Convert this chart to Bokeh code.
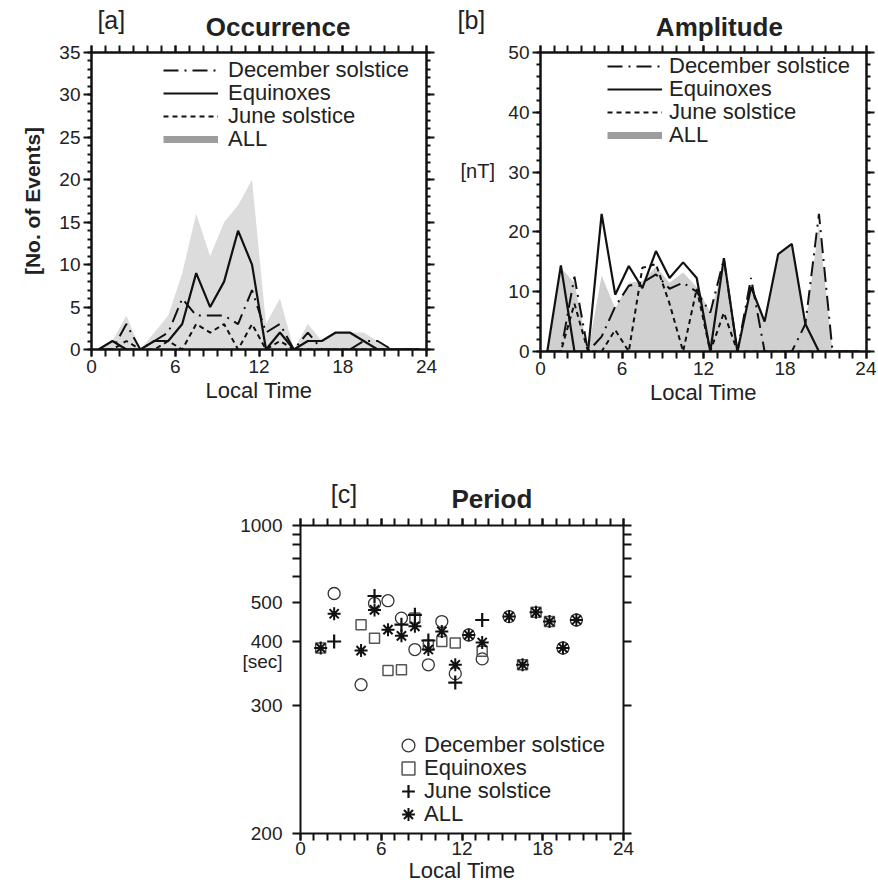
from bokeh.plotting import figure
from bokeh.models import (Range1d, LinearAxis, FixedTicker, Label, Legend, LegendItem,
                          ColumnDataSource, CustomJSTransform, CustomJSTickFormatter,
                          CustomLabelingPolicy, Spacer)
from bokeh.layouts import row, column
from bokeh.transform import transform
from bokeh.embed import file_html
from bokeh.resources import INLINE

# ---------------- data ----------------
HOURS = [0.5, 1.5, 2.5, 3.5, 4.5, 5.5, 6.5, 7.5, 8.5, 9.5, 10.5, 11.5,
         12.5, 13.5, 14.5, 15.5, 16.5, 17.5, 18.5, 19.5, 20.5, 21.5, 22.5, 23.5]

# [a] Occurrence (number of events)
OCC_DEC = [0, 0, 3, 0, 1, 2, 6, 4, 4, 4, 3, 7, 2, 3, 0, 2, 0, 0, 0, 1, 1, 0, 0, 0]
OCC_EQU = [0, 1, 0, 0, 1, 1, 3, 9, 5, 8, 14, 10, 0, 2, 0, 1, 1, 2, 2, 1, 0, 0, 0, 0]
OCC_JUN = [0, 0, 1, 0, 0, 1, 0, 3, 2, 3, 0, 3, 0, 1, 0, 0, 0, 0, 0, 0, 0, 0, 0, 0]
OCC_ALL = [0, 1, 4, 0, 2, 4, 9, 16, 11, 15, 17, 20, 3, 6, 0, 3, 1, 2, 2, 2, 1, 0, 0, 0]

# [b] Amplitude (nT)
AMP_DEC = [0, 0, 12.5, 0, 2.5, 7.5, 11, 11.5, 12.9, 10.5, 11.5, 10, 6.5, 15.5,
           0, 12.3, 0, 0, 0, 4.6, 23, 0, 0, 0]
AMP_EQU = [0, 14.4, 0, 0, 23, 9.5, 14.3, 10.6, 16.8, 12.3, 14.9, 12.3, 0, 15.6,
           0, 10.8, 5.0, 16.3, 18.0, 4.6, 0, 0, 0, 0]
AMP_JUN = [0, 0, 8, 0, 0, 3.6, 0, 14, 14.6, 8, 0, 10.5, 0, 6.5,
           0, 0, 0, 0, 0, 0, 0, 0, 0, 0]
AMP_ALL = [0, 14, 11.5, 0, 12.7, 7.2, 11.5, 11.8, 14.2, 11.5, 13.2, 10.8, 6.6, 14.2,
           0, 11.3, 5, 16.2, 18, 4.6, 21, 0, 0, 0]

# [c] Period (sec)
PER_DEC_LT = [2.5, 4.5, 5.5, 6.5, 7.5, 8.5, 9.5, 10.5, 11.5, 12.5, 13.5, 15.5, 19.5, 20.5]
PER_DEC = [531, 326, 497, 506, 454, 383, 356, 445, 342, 413, 366, 458, 386, 449]
PER_EQU_LT = [1.5, 4.5, 5.5, 6.5, 7.5, 8.5, 9.5, 10.5, 11.5, 13.5, 16.5, 17.5, 18.5]
PER_EQU = [386, 437, 406, 347, 348, 454, 392, 399, 396, 380, 356, 470, 445]
PER_JUN_LT = [2.5, 5.5, 7.5, 8.5, 9.5, 11.5, 13.5]
PER_JUN = [399, 522, 437, 463, 401, 329, 449]
PER_ALL_LT = [1.5, 2.5, 4.5, 5.5, 6.5, 7.5, 8.5, 9.5, 10.5, 11.5, 12.5, 13.5,
              15.5, 16.5, 17.5, 18.5, 19.5, 20.5]
PER_ALL = [386, 466, 381, 477, 425, 411, 433, 383, 421, 356, 413, 397,
           458, 356, 470, 445, 386, 449]

LT_TICKS = [0, 6, 12, 18, 24]
OCC_TICKS = [0, 5, 10, 15, 20, 25, 30, 35]
AMP_TICKS = [0, 10, 20, 30, 40, 50]
PER_TICKS = [1000, 500, 400, 300, 200]
PER_MINOR = [900, 800, 700, 600]

LABELS = ["December solstice", "Equinoxes", "June solstice", "ALL"]

# ---------------- style ----------------
FONT = "Liberation Sans"
TXT = "#222222"
INK = "#111111"
DASHDOT = "15 6 2 6"
DOTTED = "5 4"
TICK_FS = "19px"
LEG_FS = "22px"
SEC_POS = 362.0  # period level where the "[sec]" caption sits

NO_LABELS = "for (const i of indices) { indices.unset(i) } return indices"


def base_axis(ax, ticker, width=2.5, major_out=7, minor_out=7, labels=True):
    ax.ticker = ticker
    ax.axis_line_width = width
    ax.axis_line_color = INK
    ax.major_tick_line_width = 2
    ax.minor_tick_line_width = 2
    ax.major_tick_line_color = INK
    ax.minor_tick_line_color = INK
    ax.major_tick_in = 0
    ax.minor_tick_in = 0
    ax.major_tick_out = major_out
    ax.minor_tick_out = minor_out
    if labels:
        ax.major_label_text_font = FONT
        ax.major_label_text_font_size = TICK_FS
        ax.major_label_text_color = TXT
        ax.major_label_standoff = 3
    else:
        ax.major_label_text_font_size = "0px"
        ax.major_label_standoff = 0
        ax.major_label_policy = CustomLabelingPolicy(code=NO_LABELS)


def axis_title(ax, text, size="22px", bold=False, standoff=2):
    ax.axis_label = text
    ax.axis_label_text_font = FONT
    ax.axis_label_text_font_size = size
    ax.axis_label_text_font_style = "bold" if bold else "normal"
    ax.axis_label_text_color = TXT
    ax.axis_label_standoff = standoff


def make_fig(w, h, xr, yr, bl, br, bt, bb):
    p = figure(width=w, height=h, x_range=xr, y_range=yr, title=None,
               output_backend="svg", toolbar_location=None,
               min_border_left=bl, min_border_right=br,
               min_border_top=bt, min_border_bottom=bb)
    p.xgrid.visible = False
    p.ygrid.visible = False
    p.outline_line_color = None
    p.background_fill_color = "white"
    p.border_fill_color = "white"
    return p


def text_strip(w, h):
    """A plain canvas (pixel units, y downwards) for captions outside plot frames."""
    s = figure(width=w, height=h, x_range=Range1d(0, w), y_range=Range1d(h, 0),
               title=None, output_backend="svg", toolbar_location=None,
               x_axis_type=None, y_axis_type=None, min_border=0)
    s.xgrid.visible = False
    s.ygrid.visible = False
    s.outline_line_color = None
    s.background_fill_color = "white"
    s.border_fill_color = "white"
    return s


def add_label(p, x, y, text, size, bold=False, align="left"):
    p.add_layout(Label(x=x, y=y, text=text, text_font=FONT, text_font_size=size,
                       text_font_style="bold" if bold else "normal",
                       text_color=TXT, text_align=align, text_baseline="middle"))


def lt_ticker():
    return FixedTicker(ticks=LT_TICKS, minor_ticks=list(range(0, 25)))


def frame_axes(p, yt, width=2.5, ymaj=8, ymin=4):
    bottom = p.below[0]
    left = p.left[0]
    base_axis(bottom, lt_ticker(), width=width)
    base_axis(left, yt(), width=width, major_out=ymaj, minor_out=ymin)
    top = LinearAxis()
    base_axis(top, lt_ticker(), width=width, labels=False)
    p.add_layout(top, "above")
    right = LinearAxis()
    base_axis(right, yt(), width=width, major_out=ymaj, minor_out=ymin, labels=False)
    p.add_layout(right, "right")
    return bottom, left


def legend_rows(p, rends, x, frame_h, first, pitch, glyph_w, glyph_h, standoff):
    """One single-entry legend per row; row centres measured from the frame top (px)."""
    for k, (lab, r) in enumerate(zip(LABELS, rends)):
        c = first + k * pitch
        leg = Legend(items=[LegendItem(label=lab, renderers=[r])],
                     location=(x, frame_h - (c + glyph_h / 2.0)),
                     orientation="vertical", background_fill_alpha=0,
                     border_line_color=None, padding=0, margin=0, spacing=0,
                     label_standoff=standoff, glyph_width=glyph_w,
                     glyph_height=glyph_h, label_height=glyph_h,
                     label_text_font=FONT, label_text_font_size=LEG_FS,
                     label_text_color=TXT)
        p.add_layout(leg)


NAN = float("nan")
HEAD = 41      # height of the caption strip above panels a and b
TOP = 11       # border above the frames of panels a and b
PITCH = 23     # legend row pitch

# ---------------- panel a ----------------
head_a = text_strip(456, HEAD)
add_label(head_a, 8, 19, "[a]", "25px")
add_label(head_a, 254, 26.5, "Occurrence", "26px", bold=True, align="center")

pa = make_fig(456, 426 - HEAD, Range1d(0, 24), Range1d(0, 35), 91, 30, TOP, 77)
xa, ya = frame_axes(pa, lambda: FixedTicker(ticks=OCC_TICKS, minor_ticks=list(range(0, 36))))
axis_title(xa, "Local Time", standoff=2)
axis_title(ya, "[No. of Events]", size="21px", bold=True, standoff=12)

pa.varea(x=HOURS, y1=0, y2=OCC_ALL, fill_color="#dcdcdc")
ra_jun = pa.line(HOURS, OCC_JUN, line_color=INK, line_width=2, line_dash=DOTTED)
ra_dec = pa.line(HOURS, OCC_DEC, line_color=INK, line_width=2, line_dash=DASHDOT)
ra_equ = pa.line(HOURS, OCC_EQU, line_color=INK, line_width=2.2)
ra_all = pa.line(x=[NAN], y=[NAN], line_color="#9d9d9d", line_width=7)
legend_rows(pa, [ra_dec, ra_equ, ra_jun, ra_all], 72, 297, 17.7, PITCH, 55, 26, 10)

# ---------------- panel b ----------------
strip_b = text_strip(41, 426)
add_label(strip_b, 4, 170, "[nT]", "20px")
add_label(strip_b, 1, 19, "[b]", "25px")

head_b = text_strip(379, HEAD)
add_label(head_b, 208, 26.5, "Amplitude", "26px", bold=True, align="center")

pb = make_fig(379, 426 - HEAD, Range1d(0, 24), Range1d(0, 50), 43, 10, TOP, 75)
xb, yb = frame_axes(pb, lambda: FixedTicker(ticks=AMP_TICKS, minor_ticks=list(range(0, 51, 2))))
axis_title(xb, "Local Time", standoff=2)

pb.varea(x=HOURS, y1=0, y2=AMP_ALL, fill_color="#d0d0d0")
rb_jun = pb.line(HOURS, AMP_JUN, line_color=INK, line_width=2, line_dash=DOTTED)
rb_dec = pb.line(HOURS, AMP_DEC, line_color=INK, line_width=2, line_dash=DASHDOT)
rb_equ = pb.line(HOURS, AMP_EQU, line_color=INK, line_width=2.2)
rb_all = pb.line(x=[NAN], y=[NAN], line_color="#9d9d9d", line_width=7)
legend_rows(pb, [rb_dec, rb_equ, rb_jun, rb_all], 67, 299, 14.4, PITCH, 55, 26, 7)

# ---------------- panel c ----------------
to_freq = CustomJSTransform(v_func="return xs.map((v) => 1000 / v)")


def inv(vals):
    return [1000.0 / v for v in vals]


head_c = text_strip(427, 87)
add_label(head_c, 40, 67, "[c]", "25px")
add_label(head_c, 253, 72, "Period", "26px", bold=True, align="center")

pc = make_fig(427, 375, Range1d(0, 24), Range1d(1000.0 / PER_TICKS[-1], 1000.0 / PER_TICKS[0]),
              92, 12, 12, 55)
xc = pc.below[0]
yc = pc.left[0]
base_axis(xc, lt_ticker(), width=2)
xc.major_label_standoff = 1
axis_title(xc, "Local Time", standoff=0)
# left axis: tick marks drawn as (unlabelled) minor ticks, labels from major ticks
base_axis(yc, FixedTicker(ticks=inv(PER_TICKS + [SEC_POS]), minor_ticks=inv(PER_TICKS + PER_MINOR)),
          width=2, major_out=0, minor_out=8)
yc.major_label_standoff = 10
yc.formatter = CustomJSTickFormatter(
    args=dict(sec=1000.0 / SEC_POS),
    code="if (Math.abs(tick - sec) < 1e-6) { return '[sec]'; } return Math.round(1000 / tick).toString();")
topc = LinearAxis()
base_axis(topc, lt_ticker(), width=2, labels=False)
pc.add_layout(topc, "above")
rightc = LinearAxis()
base_axis(rightc, FixedTicker(ticks=inv(PER_TICKS), minor_ticks=inv(PER_MINOR)),
          width=2, major_out=8, minor_out=8, labels=False)
pc.add_layout(rightc, "right")

src_dec = ColumnDataSource(dict(lt=PER_DEC_LT, period=PER_DEC))
src_equ = ColumnDataSource(dict(lt=PER_EQU_LT, period=PER_EQU))
src_jun = ColumnDataSource(dict(lt=PER_JUN_LT, period=PER_JUN))
src_all = ColumnDataSource(dict(lt=PER_ALL_LT, period=PER_ALL))
yf = transform("period", to_freq)
rc_dec = pc.scatter(x="lt", y=yf, source=src_dec, marker="circle", size=12,
                    fill_color=None, line_color="#333333", line_width=1.3)
rc_equ = pc.scatter(x="lt", y=yf, source=src_equ, marker="square", size=10,
                    fill_color=None, line_color="#555555", line_width=1.5)
rc_jun = pc.scatter(x="lt", y=yf, source=src_jun, marker="cross", size=14,
                    fill_color=None, line_color=INK, line_width=2.2)
rc_all = pc.scatter(x="lt", y=yf, source=src_all, marker="asterisk", size=13,
                    fill_color=None, line_color=INK, line_width=2)

legend_rows(pc, [rc_dec, rc_equ, rc_jun, rc_all], 92, 308, 219.7, PITCH, 32, 32, 0)

layout = column(
    row(column(head_a, pa), strip_b, column(head_b, pb)),
    row(Spacer(width=208, height=462), column(head_c, pc)),
)

open("out.html", "w").write(file_html(layout, INLINE))
